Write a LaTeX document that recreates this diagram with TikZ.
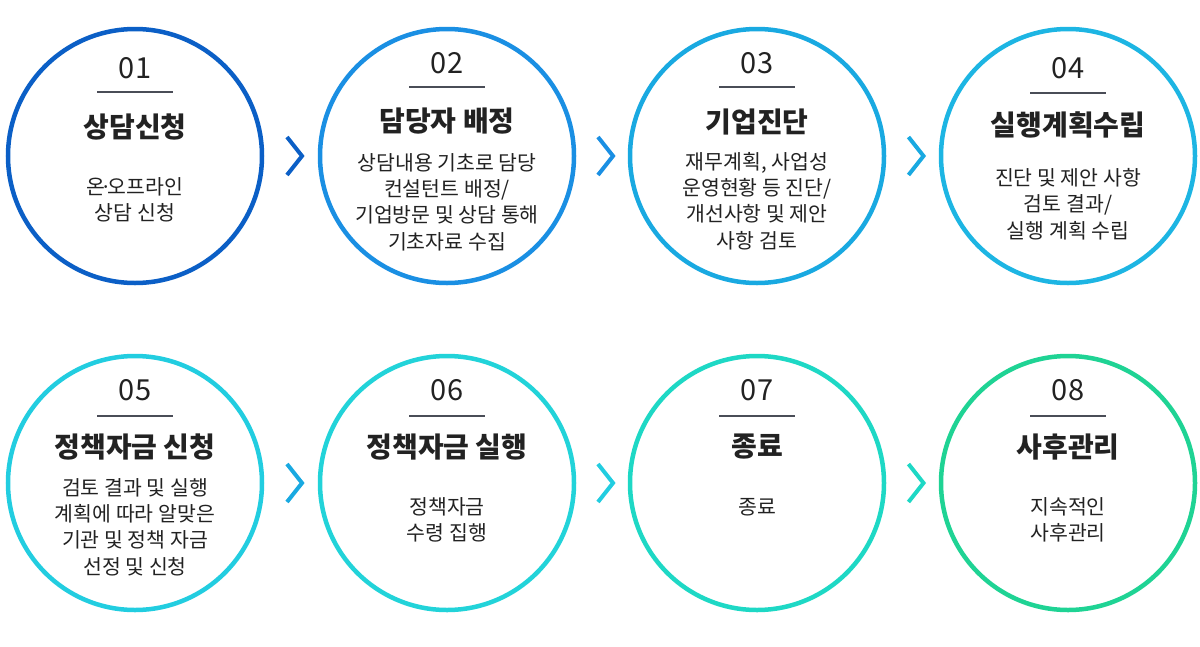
\documentclass[tikz,border=0pt]{standalone}
\usepackage{fontspec}
\setmainfont{Noto Sans CJK KR}
\usetikzlibrary{positioning,calc}
\definecolor{stepA}{HTML}{0B5FC6}
\definecolor{stepB}{HTML}{1A8FE3}
\definecolor{stepC}{HTML}{19A9E1}
\definecolor{stepD}{HTML}{1DB5E3}
\definecolor{stepE}{HTML}{22CDE0}
\definecolor{stepF}{HTML}{22D3D9}
\definecolor{stepG}{HTML}{1ED8C5}
\definecolor{stepH}{HTML}{1FD394}
\definecolor{barcol}{HTML}{4A4D57}
\definecolor{inkcol}{HTML}{222222}

\begin{document}
\begin{tikzpicture}[x=1pt, y=-1pt,
    ring/.style={circle, draw, line width=4.5pt, minimum size=254pt, inner sep=0pt},
    num/.style={font=\fontsize{29}{30}\selectfont, text=inkcol, inner sep=0pt},
    ttl/.style={font=\fontsize{28}{30}\selectfont\bfseries, text=inkcol, inner sep=0pt},
    txt/.style={font=\fontsize{20.5}{26.3}\selectfont, text=inkcol, align=center, inner sep=0pt},
    bar/.style={draw=barcol, line width=2pt},
    chev/.style={line width=4pt, miter limit=10}]

    \useasboundingbox (0,0) rectangle (1200,646);

    % row 1
    \node[ring, draw=stepA] (c1) at (135,156) {};
    \node[num] (n1) at (135,68) {01};
    \draw[bar] ($(n1)+(-38,24)$) -- ++(76,0);
    \node[ttl] (t1) at (135,127) {상담신청};
    \node[txt] (b1) at (135,200) {온\kern-0.22em·\kern-0.22em오프라인\\상담 신청};

    \node[ring, draw=stepB] (c2) at (447,156) {};
    \node[num] (n2) at (447,63) {02};
    \draw[bar] ($(n2)+(-38,24)$) -- ++(76,0);
    \node[ttl] (t2) at (447,121) {담당자 배정};
    \node[txt] (b2) at (447,202) {상담내용 기초로 담당\\컨설턴트 배정/\\기업방문 및 상담 통해\\기초자료 수집};

    \node[ring, draw=stepC] (c3) at (757,156) {};
    \node[num] (n3) at (757,63) {03};
    \draw[bar] ($(n3)+(-38,24)$) -- ++(76,0);
    \node[ttl] (t3) at (757,122) {기업진단};
    \node[txt] (b3) at (757,201) {재무계획, 사업성\\운영현황 등 진단/\\개선사항 및 제안\\사항 검토};

    \node[ring, draw=stepD] (c4) at (1068,156) {};
    \node[num] (n4) at (1068,68) {04};
    \draw[bar] ($(n4)+(-38,25)$) -- ++(76,0);
    \node[ttl] (t4) at (1068,125) {실행계획수립};
    \node[txt] (b4) at (1068,204) {진단 및 제안 사항\\검토 결과/\\실행 계획 수립};

    % row 2
    \node[ring, draw=stepE] (c5) at (135,483) {};
    \node[num] (n5) at (135,390) {05};
    \draw[bar] ($(n5)+(-38,26)$) -- ++(76,0);
    \node[ttl] (t5) at (135,447) {정책자금 신청};
    \node[txt] (b5) at (135,527) {검토 결과 및 실행\\계획에 따라 알맞은\\기관 및 정책 자금\\선정 및 신청};

    \node[ring, draw=stepF] (c6) at (447,483) {};
    \node[num] (n6) at (447,390) {06};
    \draw[bar] ($(n6)+(-38,26)$) -- ++(76,0);
    \node[ttl] (t6) at (447,447) {정책자금 실행};
    \node[txt] (b6) at (447,520) {정책자금\\수령 집행};

    \node[ring, draw=stepG] (c7) at (757,483) {};
    \node[num] (n7) at (757,390) {07};
    \draw[bar] ($(n7)+(-38,26)$) -- ++(76,0);
    \node[ttl] (t7) at (757,447) {종료};
    \node[txt] (b7) at (757,507) {종료};

    \node[ring, draw=stepH] (c8) at (1068,483) {};
    \node[num] (n8) at (1068,390) {08};
    \draw[bar] ($(n8)+(-38,26)$) -- ++(76,0);
    \node[ttl] (t8) at (1068,447) {사후관리};
    \node[txt] (b8) at (1068,520) {지속적인\\사후관리};

    % chevrons between the steps
    \draw[chev, stepA] ($(c1.east)!0.5!(c2.west)+(-4,-19)$) -- ++(15,19) -- ++(-15,19);
    \draw[chev, stepB] ($(c2.east)!0.5!(c3.west)+(-4,-19)$) -- ++(15,19) -- ++(-15,19);
    \draw[chev, stepC] ($(c3.east)!0.5!(c4.west)+(-4,-19)$) -- ++(15,19) -- ++(-15,19);
    \draw[chev, stepC] ($(c5.east)!0.5!(c6.west)+(-4,-19)$) -- ++(15,19) -- ++(-15,19);
    \draw[chev, stepE] ($(c6.east)!0.5!(c7.west)+(-4,-19)$) -- ++(15,19) -- ++(-15,19);
    \draw[chev, stepG] ($(c7.east)!0.5!(c8.west)+(-4,-19)$) -- ++(15,19) -- ++(-15,19);
\end{tikzpicture}
\end{document}
